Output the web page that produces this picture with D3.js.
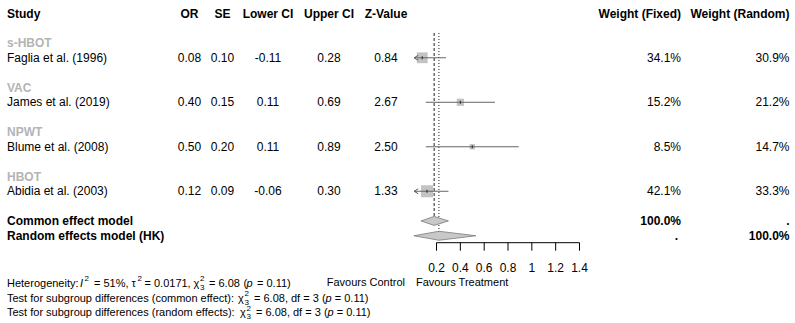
<!DOCTYPE html>
<html>
<head>
<meta charset="utf-8">
<script src="https://cdn.jsdelivr.net/npm/d3@7"></script>
<style>
  body { margin: 0; background: #fff; }
  text { font-family: "Liberation Sans", Arial, sans-serif; }
</style>
</head>
<body>
<div class="forest"></div>
<script>
// ---- data ----
var subgroups = ["s-HBOT", "VAC", "NPWT", "HBOT"];
var studies = ["Faglia et al. (1996)", "James et al. (2019)", "Blume et al. (2008)", "Abidia et al. (2003)"];
var orVals = [0.08, 0.40, 0.50, 0.12];
var seVals = [0.10, 0.15, 0.20, 0.09];
var lowerCI = [-0.11, 0.11, 0.11, -0.06];
var upperCI = [0.28, 0.69, 0.89, 0.30];
var zVals = [0.84, 2.67, 2.50, 1.33];
var weightFixed = [34.1, 15.2, 8.5, 42.1];
var weightRandom = [30.9, 21.2, 14.7, 33.3];
var commonModel = [0.18, 0.07, 0.30];   // est, lower, upper
var randomModel = [0.22, 0.01, 0.53];
var xTicks = [0.2, 0.4, 0.6, 0.8, 1, 1.2, 1.4];
var headers = ["Study", "OR", "SE", "Lower CI", "Upper CI", "Z-Value"];

var svg = d3.select(".forest")
  .append("svg")
  .attr("width", 795)
  .attr("height", 323);

var fs = 12;
var rowH = 14.83, row0 = 13.3;
function rowY(i) { return row0 + i * rowH; }

var x = d3.scaleLinear().domain([0, 1.4]).range([412.7, 579.5]);
var colX = { or: 189.5, se: 222.5, lo: 268, up: 329, z: 386 };
var wFixX = 681, wRanX = 789.5;

function txt(xx, yy, s, anchor, bold, color, size) {
  return svg.append("text")
    .attr("x", xx).attr("y", yy)
    .attr("dy", "0.35em")
    .attr("text-anchor", anchor || "start")
    .style("font-size", (size || fs) + "px")
    .style("font-weight", bold ? "bold" : "normal")
    .style("fill", color || "#000")
    .text(s);
}

/* ------- header -------*/
var hx = [7, colX.or, colX.se, colX.lo, colX.up, colX.z];
headers.forEach(function (h, i) {
  txt(hx[i], rowY(0), h, i == 0 ? "start" : "middle", true);
});
txt(wFixX, rowY(0), "Weight (Fixed)", "end", true);
txt(wRanX, rowY(0), "Weight (Random)", "end", true);

/* ------- reference lines for pooled estimates -------*/
svg.append("line")
  .attr("x1", x(commonModel[0])).attr("x2", x(commonModel[0]))
  .attr("y1", 33).attr("y2", rowY(14))
  .attr("stroke", "#222").attr("stroke-width", 1)
  .attr("stroke-dasharray", "3,2");
svg.append("line")
  .attr("x1", x(randomModel[0])).attr("x2", x(randomModel[0]))
  .attr("y1", 33).attr("y2", rowY(15))
  .attr("stroke", "#222").attr("stroke-width", 1)
  .attr("stroke-dasharray", "1,2");

/* ------- studies -------*/
var maxW = d3.max(weightFixed);
var sq = d3.scaleSqrt().domain([0, maxW]).range([0, 12]);
studies.forEach(function (s, i) {
  var gy = rowY(2 + i * 3), sy = rowY(3 + i * 3);
  txt(7, gy, subgroups[i], "start", true, "#b4b4b4");
  txt(7, sy, s);
  txt(colX.or, sy, orVals[i].toFixed(2), "middle");
  txt(colX.se, sy, seVals[i].toFixed(2), "middle");
  txt(colX.lo, sy, lowerCI[i].toFixed(2), "middle");
  txt(colX.up, sy, upperCI[i].toFixed(2), "middle");
  txt(colX.z, sy, zVals[i].toFixed(2), "middle");
  txt(wFixX, sy, weightFixed[i].toFixed(1) + "%", "end");
  txt(wRanX, sy, weightRandom[i].toFixed(1) + "%", "end");

  var side = sq(weightFixed[i]);
  svg.append("rect")
    .attr("x", x(orVals[i]) - side / 2).attr("y", sy - side / 2)
    .attr("width", side).attr("height", side)
    .attr("fill", "#c3c3c3");
  var clipped = lowerCI[i] < x.domain()[0];
  var x1 = clipped ? x(x.domain()[0]) + 1.5 : x(lowerCI[i]);
  svg.append("line")
    .attr("x1", x1).attr("x2", x(upperCI[i]))
    .attr("y1", sy).attr("y2", sy)
    .attr("stroke", "#666").attr("stroke-width", 1);
  svg.append("line")
    .attr("x1", x(orVals[i])).attr("x2", x(orVals[i]))
    .attr("y1", sy - 1.5).attr("y2", sy + 1.5)
    .attr("stroke", "#222").attr("stroke-width", 1);
  if (clipped) {
    svg.append("path")
      .attr("d", "M" + (x1 + 4) + "," + (sy - 2.5) + "L" + x1 + "," + sy + "L" + (x1 + 4) + "," + (sy + 2.5))
      .attr("fill", "none").attr("stroke", "#555").attr("stroke-width", 1);
  }
});

/* ------- pooled diamonds -------*/
function diamond(m, yy, h) {
  svg.append("path")
    .attr("d", "M" + x(m[1]) + "," + yy + "L" + x(m[0]) + "," + (yy - h) +
      "L" + x(m[2]) + "," + yy + "L" + x(m[0]) + "," + (yy + h) + "Z")
    .attr("fill", "#c8c8c8").attr("stroke", "#7a7a7a").attr("stroke-width", 0.8);
}
diamond(commonModel, rowY(14), 4.5);
diamond(randomModel, rowY(15), 4.5);

txt(7, rowY(14), "Common effect model", "start", true);
txt(7, rowY(15), "Random effects model (HK)", "start", true);
txt(wFixX, rowY(14), "100.0%", "end", true);
txt(wRanX, rowY(14), ".", "end", true);
txt(wFixX - 3, rowY(15), ".", "end", true);
txt(wRanX, rowY(15), "100.0%", "end", true);

/* ------- x axis -------*/
var axisY = 242.7;
svg.append("line")
  .attr("x1", x(xTicks[0])).attr("x2", x(xTicks[xTicks.length - 1]))
  .attr("y1", axisY).attr("y2", axisY)
  .attr("stroke", "#000");
xTicks.forEach(function (t) {
  svg.append("line")
    .attr("x1", x(t)).attr("x2", x(t))
    .attr("y1", axisY).attr("y2", axisY + 8)
    .attr("stroke", "#000");
  txt(x(t), 268, d3.format("")(t), "middle");
});
txt(405, 282.5, "Favours Control", "end", false, "#000", 11);
txt(416, 282.5, "Favours Treatment", "start", false, "#000", 11);

/* ------- heterogeneity / subgroup tests -------*/
// segments: t = text, i = italic, sup/sub = script, x = fixed start (else follows previous)
var bfs = 11;
var hetLines = [
  [{ t: "Heterogeneity:", x: 7 }, { t: "I", i: 1, x: 80 }, { sup: "2", x: 84.5 }, { t: "= 51%,", x: 94 },
   { t: "τ", x: 131.5 }, { sup: "2", x: 137.5 }, { t: "= 0.0171,", x: 144.5 },
   { t: "χ", x: 193.5 }, { sup: "2", sub: "3", x: 200 }, { t: "= 6.08", x: 209 },
   { t: "(", x: 243.5 }, { t: "p", i: 1, x: 246.5 }, { t: "= 0.11)", x: 257 }],
  [{ t: "Test for subgroup differences (common effect):", x: 7 }, { t: "χ", x: 238 }, { sup: "2", sub: "3", x: 244.5 },
   { t: "= 6.08, df = 3 (", x: 254 }, { t: "p", i: 1 }, { t: " = 0.11)" }],
  [{ t: "Test for subgroup differences (random effects):", x: 7 }, { t: "χ", x: 240 }, { sup: "2", sub: "3", x: 246.5 },
   { t: "= 6.08, df = 3 (", x: 256 }, { t: "p", i: 1 }, { t: " = 0.11)" }]
];
var hetY = [283, 297.7, 312.3];
hetLines.forEach(function (parts, li) {
  var base = hetY[li] + 3.9, cur = 7;
  parts.forEach(function (p) {
    var px = p.x !== undefined ? p.x : cur;
    if (p.t !== undefined) {
      var el = svg.append("text")
        .attr("x", px).attr("y", base)
        .attr("xml:space", "preserve")
        .style("font-size", bfs + "px")
        .style("font-style", p.i ? "italic" : "normal")
        .text(p.t);
      cur = px + el.node().getComputedTextLength();
    } else {
      svg.append("text")
        .attr("x", px).attr("y", base - 5.5)
        .style("font-size", "8px")
        .text(p.sup);
      if (p.sub) {
        svg.append("text")
          .attr("x", px).attr("y", base + 3)
          .style("font-size", "8px")
          .text(p.sub);
      }
      cur = px + 5;
    }
  });
});
</script>
</body>
</html>
